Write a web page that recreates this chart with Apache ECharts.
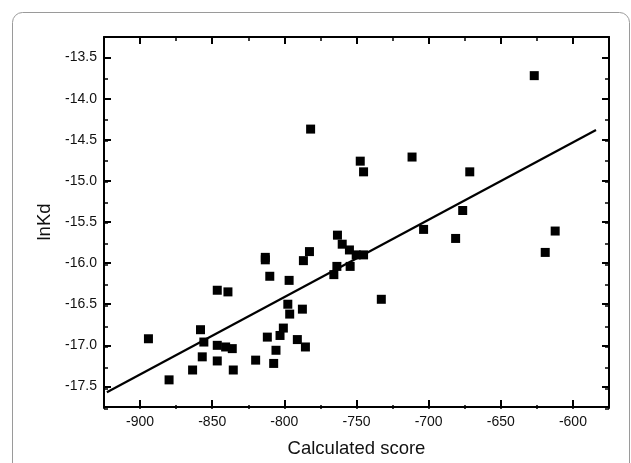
<!DOCTYPE html>
<html>
<head>
<meta charset="utf-8">
<script src="https://cdn.jsdelivr.net/npm/echarts@6/dist/echarts.min.js"></script>
<style>
  html, body { margin: 0; padding: 0; background: #fff; }
  #chart { width: 631px; height: 463px; }
</style>
</head>
<body>
<div id="chart"></div>
<script>
// calculated score vs lnKd
const scoreX = [
  -894.2, -879.9, -863.6, -858.1, -855.8, -856.9, -846.5, -839.1, -846.5, -846.5,
  -840.7, -836.1, -835.4, -819.9, -813.2, -813.2, -810.1, -811.8, -805.8, -807.4,
  -803.0, -800.7, -797.6, -796.3, -796.7, -791.0, -785.4, -787.5, -786.8, -782.6,
  -763.2, -759.9, -754.9, -750.2, -745.1, -763.6, -765.7, -754.4, -732.8, -781.8,
  -747.4, -745.1, -711.5, -671.5, -626.8, -676.4, -703.5, -681.3, -612.3, -619.2
];
const lnKd = [
  -16.92, -17.42, -17.30, -16.81, -16.96, -17.14, -16.33, -16.35, -17.00, -17.19,
  -17.02, -17.04, -17.30, -17.18, -15.93, -15.96, -16.16, -16.90, -17.06, -17.22,
  -16.88, -16.79, -16.50, -16.62, -16.21, -16.93, -17.02, -16.56, -15.97, -15.86,
  -15.66, -15.77, -15.84, -15.90, -15.90, -16.04, -16.14, -16.04, -16.44, -14.37,
  -14.76, -14.89, -14.71, -14.89, -13.72, -15.36, -15.59, -15.70, -15.61, -15.87
];

// linear fit end points
const fitX = [-923, -584];
const fitY = [-17.57, -14.38];

const xTicks = [-900, -850, -800, -750, -700, -650, -600];
const yTicks = [-17.5, -17.0, -16.5, -16.0, -15.5, -15.0, -14.5, -14.0, -13.5];

const font = '"Liberation Sans", Arial, sans-serif';
const ink = '#111';

const chart = echarts.init(document.getElementById('chart'), null, { renderer: 'canvas' });

const frameLine = { show: true, onZero: false, lineStyle: { color: '#000', width: 2 } };
const majorTick = len => ({ show: true, inside: true, length: len, lineStyle: { color: '#000', width: 2 } });
const minorTick = { show: true, inside: true, length: 4, lineStyle: { color: '#000', width: 1.5 } };

const gridBox = { left: 104, right: 22, top: 37, bottom: 54 };

chart.setOption({
  animation: false,
  textStyle: { fontFamily: font, color: ink },
  graphic: [{
    type: 'rect',
    shape: { x: 12.5, y: 12.5, width: 617, height: 480, r: 10 },
    style: { fill: 'none', stroke: '#9a9a9a', lineWidth: 1 },
    silent: true,
    z: -10
  }],
  grid: [gridBox, gridBox],
  xAxis: [
    {
      type: 'value', gridIndex: 0, position: 'bottom', min: -925, max: -575,
      axisLine: frameLine,
      axisTick: Object.assign(majorTick(7), { customValues: xTicks }),
      axisLabel: { customValues: xTicks, fontSize: 14, color: ink, margin: 8, fontFamily: font },
      splitLine: { show: false },
      name: 'Calculated score', nameLocation: 'middle', nameGap: 32,
      nameTextStyle: { fontSize: 18.5, color: ink, fontFamily: font }
    },
    {
      type: 'value', gridIndex: 0, position: 'top', min: -925, max: -575,
      axisLine: frameLine,
      axisTick: Object.assign(majorTick(7), { customValues: xTicks }),
      axisLabel: { show: false },
      splitLine: { show: false }
    },
    {
      type: 'value', gridIndex: 1, position: 'bottom', min: -925, max: -575, interval: 25,
      axisLine: { show: false }, axisTick: minorTick, axisLabel: { show: false }, splitLine: { show: false }
    },
    {
      type: 'value', gridIndex: 1, position: 'top', min: -925, max: -575, interval: 25,
      axisLine: { show: false }, axisTick: minorTick, axisLabel: { show: false }, splitLine: { show: false }
    }
  ],
  yAxis: [
    {
      type: 'value', gridIndex: 0, position: 'left', min: -17.75, max: -13.25,
      axisLine: frameLine,
      axisTick: Object.assign(majorTick(7), { customValues: yTicks }),
      axisLabel: { customValues: yTicks, fontSize: 14, color: ink, margin: 7, fontFamily: font,
        formatter: v => v.toFixed(1) },
      splitLine: { show: false },
      name: 'lnKd', nameLocation: 'middle', nameGap: 50,
      nameTextStyle: { fontSize: 18.5, color: ink, fontFamily: font }
    },
    {
      type: 'value', gridIndex: 0, position: 'right', min: -17.75, max: -13.25,
      axisLine: frameLine,
      axisTick: Object.assign(majorTick(7), { customValues: yTicks }),
      axisLabel: { show: false },
      splitLine: { show: false }
    },
    {
      type: 'value', gridIndex: 1, position: 'left', min: -17.75, max: -13.25, interval: 0.25,
      axisLine: { show: false }, axisTick: minorTick, axisLabel: { show: false }, splitLine: { show: false }
    },
    {
      type: 'value', gridIndex: 1, position: 'right', min: -17.75, max: -13.25, interval: 0.25,
      axisLine: { show: false }, axisTick: minorTick, axisLabel: { show: false }, splitLine: { show: false }
    }
  ],
  series: [
    {
      type: 'line',
      xAxisIndex: 0, yAxisIndex: 0,
      data: fitX.map((x, i) => [x, fitY[i]]),
      showSymbol: false,
      lineStyle: { color: '#000', width: 2.2 },
      z: 2
    },
    {
      type: 'scatter',
      xAxisIndex: 0, yAxisIndex: 0,
      data: scoreX.map((x, i) => [x, lnKd[i]]),
      symbol: 'rect',
      symbolSize: 9,
      itemStyle: { color: '#000', opacity: 1 },
      z: 3
    }
  ]
});
</script>
</body>
</html>
